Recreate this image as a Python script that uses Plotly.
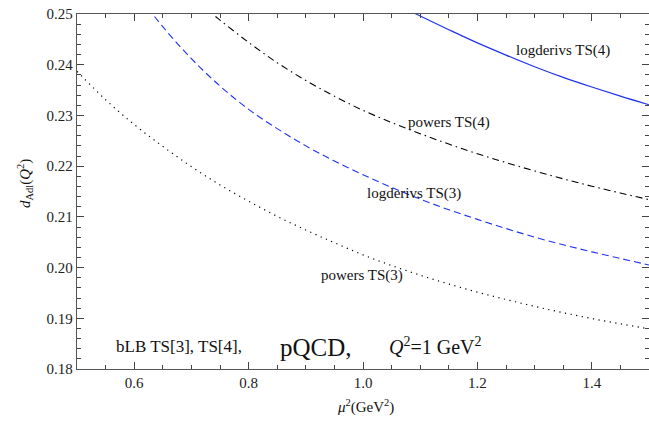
import plotly.graph_objects as go

# x grid (mu^2 in GeV^2)
x_dot = [0.50, 0.55, 0.60, 0.65, 0.70, 0.75, 0.80, 0.85, 0.90, 0.95, 1.00,
         1.05, 1.10, 1.15, 1.20, 1.25, 1.30, 1.35, 1.40, 1.45, 1.50]
powers_ts3 = [0.2387, 0.2331, 0.2282, 0.2239, 0.2199, 0.2163, 0.2131, 0.2101,
              0.2074, 0.2049, 0.2025, 0.2004, 0.1985, 0.19675, 0.19515, 0.1937,
              0.19235, 0.1911, 0.18995, 0.1889, 0.1879]

x_dd = [0.70, 0.737, 0.75, 0.80, 0.85, 0.90, 0.95, 1.00, 1.05, 1.10, 1.15,
        1.20, 1.25, 1.30, 1.35, 1.40, 1.45, 1.50]
powers_ts4 = [0.2540, 0.2500, 0.2488, 0.2444, 0.2404, 0.2369, 0.2338, 0.2310,
              0.2286, 0.2264, 0.22435, 0.22245, 0.2207, 0.21905, 0.2175,
              0.21605, 0.2147, 0.2134]

x_ld3 = [0.60, 0.65, 0.70, 0.75, 0.80, 0.85, 0.90, 0.95, 1.00, 1.05, 1.10,
         1.15, 1.20, 1.25, 1.30, 1.35, 1.40, 1.45, 1.50]
logderivs_ts3 = [0.2547, 0.2475, 0.2412, 0.2358, 0.2312, 0.2274, 0.2240,
                 0.2210, 0.2183, 0.2158, 0.2135, 0.2114, 0.2095, 0.2077,
                 0.2060, 0.2045, 0.2031, 0.2018, 0.2005]

x_ld4 = [1.05, 1.10, 1.15, 1.20, 1.25, 1.30, 1.35, 1.40, 1.45, 1.50]
logderivs_ts4 = [0.2524, 0.2496, 0.2469, 0.2443, 0.2419, 0.2396, 0.2375,
                 0.2356, 0.2338, 0.2321]

SERIF = "Liberation Serif, Times New Roman, serif"

fig = go.Figure()
fig.add_trace(go.Scatter(x=x_dot, y=powers_ts3, mode="lines", line_shape="spline",
                         line=dict(color="black", width=1.2, dash="1.2px,4.5px")))
fig.add_trace(go.Scatter(x=x_dd, y=powers_ts4, mode="lines", line_shape="spline",
                         line=dict(color="black", width=1.1, dash="7px,4px,1.5px,4px")))
fig.add_trace(go.Scatter(x=x_ld3, y=logderivs_ts3, mode="lines", line_shape="spline",
                         line=dict(color="#2233ee", width=1.1, dash="7px,4px")))
fig.add_trace(go.Scatter(x=x_ld4, y=logderivs_ts4, mode="lines", line_shape="spline",
                         line=dict(color="#2233ee", width=1.2)))

axis_common = dict(
    showgrid=False, zeroline=False, showline=True, linecolor="#555", linewidth=1.3,
    mirror="allticks", ticks="inside", ticklen=7, tickwidth=1, tickcolor="#444",
    tickfont=dict(family=SERIF, size=15, color="#222"),
)
fig.update_xaxes(range=[0.5, 1.5], dtick=0.2, tick0=0, tickformat=".1f",
                 minor=dict(dtick=0.05, ticks="inside", ticklen=4, tickcolor="#444",
                            showgrid=False),
                 **axis_common)
fig.update_yaxes(range=[0.18, 0.25], dtick=0.01, tick0=0, tickformat=".2f",
                 minor=dict(dtick=0.002, ticks="inside", ticklen=4, tickcolor="#444",
                            showgrid=False),
                 **axis_common)

labels = [
    ("logderivs TS(4)", 1.35, 0.2429, 15),
    ("powers TS(4)", 1.150, 0.2287, 15),
    ("logderivs TS(3)", 1.089, 0.2147, 15),
    ("powers TS(3)", 0.998, 0.1985, 15),
    ("bLB TS[3], TS[4],", 0.678, 0.1845, 17),
    ("pQCD,", 0.918, 0.1843, 25),
    ("<i>Q</i><sup>2</sup>=1 GeV<sup>2</sup>", 1.127, 0.1846, 20),
]
for text, lx, ly, sz in labels:
    fig.add_annotation(x=lx, y=ly, text=text, showarrow=False, xanchor="center",
                       yanchor="middle", font=dict(family=SERIF, size=sz, color="#111"))

fig.add_annotation(xref="paper", yref="paper", x=0.5035, y=-0.107,
                   text="<i>μ</i><sup>2</sup>(GeV<sup>2</sup>)", showarrow=False,
                   xanchor="center", yanchor="middle",
                   font=dict(family=SERIF, size=15, color="#111"))
fig.add_annotation(xref="paper", yref="paper", x=-0.0909, y=0.521,
                   text="<i>d</i><sub>Adl</sub>(<i>Q</i><sup>2</sup>)", showarrow=False,
                   textangle=-90, xanchor="center", yanchor="middle",
                   font=dict(family=SERIF, size=15, color="#111"))

fig.update_layout(width=649, height=425, margin=dict(l=77, r=0, t=14, b=56),
                  plot_bgcolor="white", paper_bgcolor="white", showlegend=False)

fig.write_html("out.html")
